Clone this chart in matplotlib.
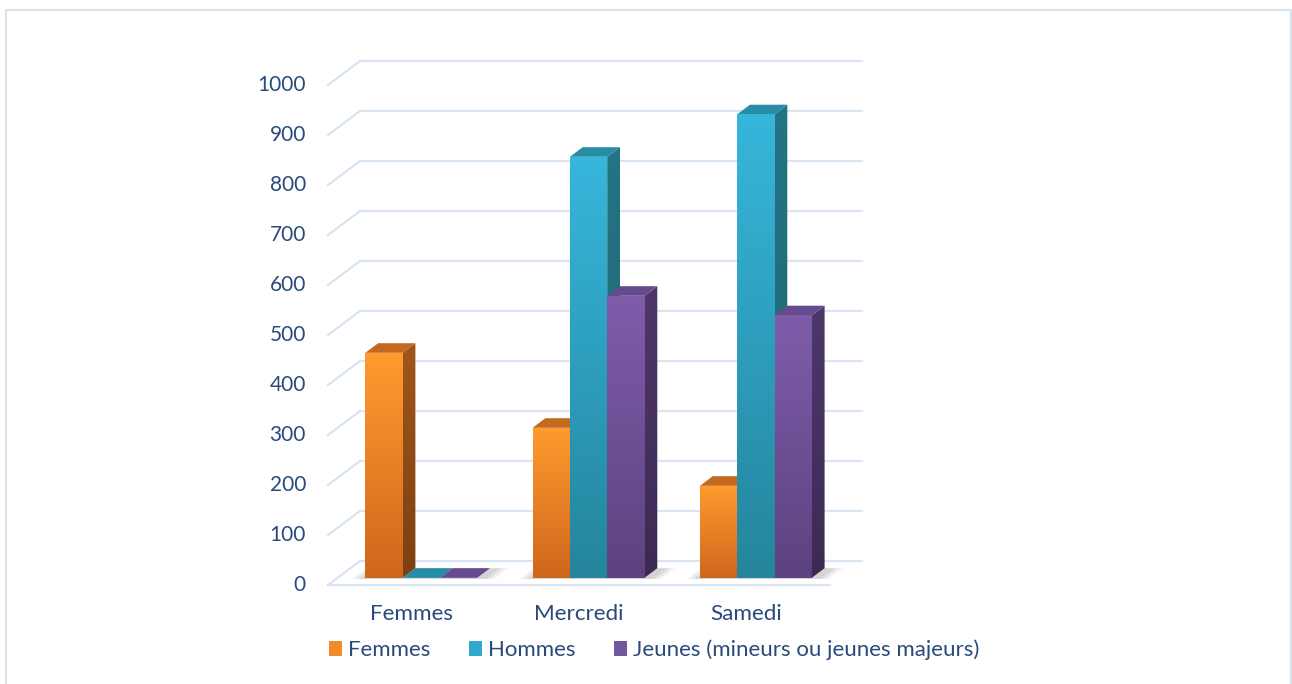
import matplotlib
matplotlib.use("Agg")
import matplotlib.pyplot as plt
import numpy as np
from matplotlib.patches import Polygon, Rectangle
from matplotlib.colors import LinearSegmentedColormap

categories = ["Femmes", "Mercredi", "Samedi"]
series_names = ["Femmes", "Hommes", "Jeunes (mineurs ou jeunes majeurs)"]
femmes = [450, 300, 184]
hommes = [0, 842, 927]
jeunes = [0, 564, 525]
y_ticks = list(range(0, 1001, 100))

# face colours per series: front (top, bottom), side (top, bottom), top face
styles = [
    dict(front=("#FF9A2E", "#CF671D"), side=("#A0561A", "#7C4112"), top="#C4691D", legend="#F28A2A"),
    dict(front=("#36B6DB", "#25859D"), side=("#237484", "#1F6270"), top="#278CA5", legend="#2FA8CC"),
    dict(front=("#7F5CAA", "#5D4280"), side=("#4E376B", "#3C2A53"), top="#654A8E", legend="#7455A0"),
]
text_color = "#2A4A7B"
grid_color = "#D9E5F3"
font = ["Lato", "DejaVu Sans"]

W, H, DPI = 1292, 684, 100
px_x = 167.3      # pixels per category
px_y = 0.5        # pixels per value unit
depth = (32 / px_x, 24 / px_y)   # oblique depth vector, data units
f0, f1 = 0.30, 0.70              # bar front/back depth fraction
bw = 37.3 / px_x                 # bar width

fig = plt.figure(figsize=(W / DPI, H / DPI), dpi=DPI)
# axes placed so the front floor edge is at px 328..830, y=585
ax_l, ax_r, ax_t, ax_b = 300, 880, 40, 600
ax = fig.add_axes([ax_l / W, 1 - ax_b / H, (ax_r - ax_l) / W, (ax_b - ax_t) / H])
ax.axis("off")
xlim = (-0.5 - (328 - ax_l) / px_x, -0.5 + (ax_r - 328) / px_x)
ylim = ((585 - ax_b) / px_y, (585 - ax_t) / px_y)


def at(x, v, f):
    return (x + f * depth[0], v + f * depth[1])


# walls: back gridlines and side diagonals
x_lo, x_hi = -0.5, len(categories) - 0.5
for v in y_ticks:
    p0, p1 = at(x_lo, v, 1), at(x_hi, v, 1)
    ax.plot([p0[0], p1[0]], [p0[1], p1[1]], color=grid_color, lw=1.6, zorder=1)
    q = at(x_lo, v, 0)
    ax.plot([q[0], p0[0]], [q[1], p0[1]], color=grid_color, lw=1.6, zorder=1)
    ax.text(x_lo - 22 / px_x, v, str(v), ha="right", va="center",
            fontsize=15, color=text_color, family=font)
ax.plot([x_lo, x_hi], [0, 0], color=grid_color, lw=1.6, zorder=1)


def gradient_fill(poly, c_top, c_bot, z):
    cmap = LinearSegmentedColormap.from_list("g", [c_bot, c_top])
    xs, ys = zip(*poly)
    patch = Polygon(poly, closed=True, facecolor="none", edgecolor="none")
    ax.add_patch(patch)
    im = ax.imshow(np.linspace(0, 1, 64).reshape(-1, 1), cmap=cmap, origin="lower",
                   extent=[min(xs), max(xs), min(ys), max(ys)], aspect="auto",
                   interpolation="bilinear", zorder=z)
    im.set_clip_path(patch)


z = 2
for i, cat in enumerate(categories):
    # soft shadow on the floor under the group
    gx0 = i - 1.5 * bw
    gx1 = i + 1.5 * bw
    for k, a in enumerate([0.05, 0.05, 0.06, 0.07]):
        pad = (4 - k) * 3 / px_x
        shadow = [at(gx0 - pad, 0, f0 - 0.05), at(gx1 + pad + 0.04, 0, f0 - 0.05),
                  at(gx1 + pad + 0.04, 0, f1), at(gx0 - pad, 0, f1)]
        ax.add_patch(Polygon(shadow, closed=True, facecolor="#404040", alpha=a,
                             edgecolor="none", zorder=z))
    z += 1
    for s, vals in enumerate([femmes, hommes, jeunes]):
        v = vals[i]
        st = styles[s]
        xl = i - 1.5 * bw + s * bw
        xr = xl + bw
        side = [at(xr, 0, f0), at(xr, 0, f1), at(xr, v, f1), at(xr, v, f0)]
        top = [at(xl, v, f0), at(xr, v, f0), at(xr, v, f1), at(xl, v, f1)]
        front = [at(xl, 0, f0), at(xr, 0, f0), at(xr, v, f0), at(xl, v, f0)]
        if v > 0:
            gradient_fill(side, st["side"][0], st["side"][1], z)
        ax.add_patch(Polygon(top, closed=True, facecolor=st["top"], edgecolor="none", zorder=z + 0.5))
        if v > 0:
            gradient_fill(front, st["front"][0], st["front"][1], z + 0.6)
        z += 1
    ax.text(i, (585 - 614) / px_y, cat, ha="center", va="center",
            fontsize=16.2, color=text_color, family=font)

ax.set_xlim(xlim)
ax.set_ylim(ylim)

# legend
handles = [Rectangle((0, 0), 1, 1, facecolor=st["legend"], edgecolor="none") for st in styles]
fig.legend(handles, series_names, ncol=3, loc="center", bbox_to_anchor=(654 / W, 1 - 650 / H),
           frameon=False, handlelength=0.6, handleheight=0.6, handletextpad=0.25,
           columnspacing=1.75, prop=dict(family=font, size=16), labelcolor=text_color)

# outer frame
fig.add_artist(Rectangle((6 / W, -0.01), (1291 - 6) / W, 1 - 10 / H + 0.01,
                         transform=fig.transFigure, facecolor="none",
                         edgecolor="#D9E3F0", lw=1.5))

fig.savefig("out.png", dpi=DPI)
